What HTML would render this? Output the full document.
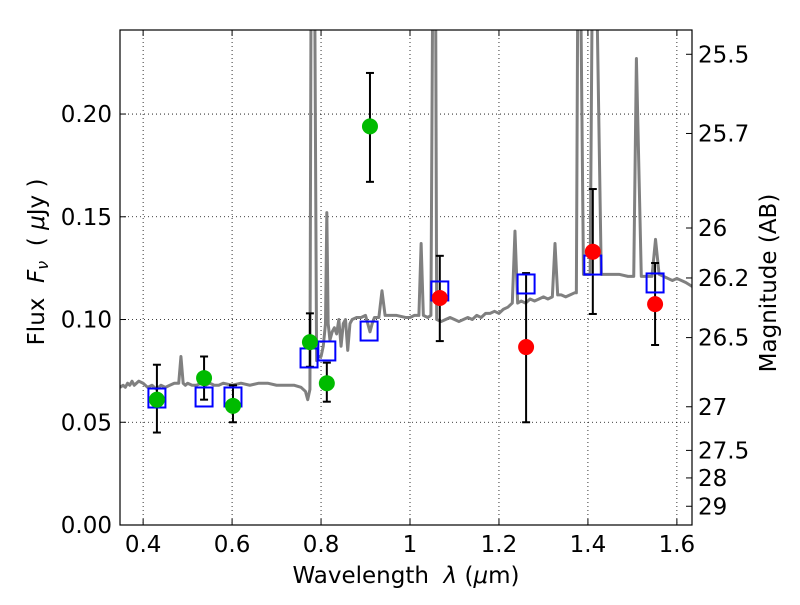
<!DOCTYPE html>
<html><head><meta charset="utf-8"><style>
body{margin:0;background:#fff}
svg{font-family:"DejaVu Sans","Liberation Sans",sans-serif}
</style></head><body>
<svg id="chart" width="800" height="600" xmlns="http://www.w3.org/2000/svg"></svg>
<script>
const specLambda=[0.348,0.355,0.36,0.365,0.37,0.375,0.38,0.385,0.39,0.40,0.41,0.42,0.43,0.44,0.45,0.46,0.47,0.48,0.485,0.49,0.495,0.50,0.51,0.52,0.53,0.54,0.55,0.56,0.57,0.58,0.60,0.62,0.64,0.66,0.68,0.70,0.72,0.74,0.755,0.765,0.770,0.775,0.778,0.782,0.786,0.790,0.795,0.80,0.805,0.810,0.813,0.816,0.82,0.825,0.83,0.835,0.84,0.845,0.85,0.855,0.86,0.865,0.87,0.88,0.89,0.90,0.905,0.91,0.915,0.92,0.93,0.937,0.944,0.95,0.97,0.99,1.00,1.01,1.02,1.025,1.03,1.04,1.047,1.052,1.057,1.06,1.07,1.08,1.09,1.10,1.11,1.12,1.13,1.14,1.15,1.16,1.17,1.18,1.19,1.20,1.21,1.22,1.23,1.236,1.242,1.25,1.26,1.27,1.28,1.29,1.30,1.31,1.32,1.326,1.332,1.34,1.35,1.36,1.37,1.374,1.378,1.382,1.39,1.40,1.405,1.411,1.417,1.43,1.45,1.47,1.49,1.497,1.503,1.509,1.52,1.535,1.544,1.552,1.56,1.57,1.58,1.59,1.60,1.62,1.635];
const specFlux=[0.067,0.068,0.067,0.069,0.068,0.070,0.068,0.069,0.070,0.069,0.067,0.068,0.066,0.068,0.067,0.068,0.069,0.069,0.082,0.069,0.068,0.069,0.068,0.068,0.069,0.068,0.069,0.068,0.068,0.069,0.068,0.069,0.068,0.069,0.069,0.068,0.068,0.068,0.067,0.065,0.061,0.066,0.30,0.30,0.25,0.080,0.082,0.082,0.087,0.098,0.152,0.098,0.090,0.094,0.096,0.093,0.100,0.087,0.098,0.100,0.085,0.098,0.100,0.101,0.101,0.102,0.098,0.094,0.098,0.101,0.101,0.114,0.102,0.102,0.102,0.101,0.101,0.102,0.102,0.137,0.102,0.101,0.102,0.30,0.30,0.100,0.099,0.100,0.101,0.100,0.099,0.100,0.101,0.100,0.102,0.101,0.103,0.103,0.104,0.103,0.105,0.106,0.108,0.143,0.108,0.109,0.108,0.110,0.109,0.110,0.111,0.110,0.111,0.137,0.112,0.112,0.111,0.112,0.113,0.113,0.30,0.30,0.122,0.122,0.122,0.30,0.30,0.122,0.122,0.122,0.121,0.121,0.121,0.227,0.121,0.121,0.121,0.139,0.122,0.121,0.120,0.119,0.120,0.118,0.116,0.114];
const greenLambda=[0.431,0.537,0.602,0.775,0.813,0.910];
const greenFlux=[0.061,0.0715,0.058,0.089,0.069,0.194];
const greenHi=[0.078,0.082,0.068,0.103,0.079,0.220];
const greenLo=[0.045,0.061,0.050,0.077,0.060,0.167];
const redLambda=[1.067,1.261,1.411,1.551];
const redFlux=[0.1105,0.0866,0.133,0.1075];
const redHi=[0.131,0.1226,0.1635,0.1275];
const redLo=[0.0895,0.050,0.1027,0.0876];
const boxLambda=[0.431,0.537,0.602,0.773,0.813,0.908,1.067,1.261,1.411,1.551];
const boxFlux=[0.0618,0.0623,0.0623,0.0813,0.0847,0.0944,0.1139,0.1173,0.1265,0.1178];
const xTicks=[0.4,0.6,0.8,1.0,1.2,1.4,1.6];
const xTickLabels=["0.4","0.6","0.8","1","1.2","1.4","1.6"];
const yTicks=[0,0.05,0.10,0.15,0.20];
const yTickLabels=["0.00","0.05","0.10","0.15","0.20"];
const magTicks=[25.5,25.7,26,26.2,26.5,27,27.5,28,29];
const magLabels=["25.5","25.7","26","26.2","26.5","27","27.5","28","29"];

const L=120,R=692,T=30,B=525,X0=0.348,X1=1.634,Y0=0,Y1=0.2409;
const sx=v=>L+(v-X0)/(X1-X0)*(R-L);
const sy=v=>B-(v-Y0)/(Y1-Y0)*(B-T);
const svg=document.getElementById('chart');
const NS='http://www.w3.org/2000/svg';
function mk(tag,attrs,parent){const e=document.createElementNS(NS,tag);for(const k in attrs)e.setAttribute(k,attrs[k]);(parent||svg).appendChild(e);return e;}
const defs=mk('defs',{});const cp=mk('clipPath',{id:'pc'},defs);mk('rect',{x:L,y:T,width:R-L,height:B-T},cp);

xTicks.forEach((t,i)=>{const g=mk('line',{x1:sx(t),x2:sx(t),y1:T,y2:B,stroke:'#000','stroke-width':0.8,'stroke-dasharray':'1,3'});

const tk=mk('line',{x1:sx(t),x2:sx(t),y1:B,y2:B-6,stroke:'#000'});
const tk2=mk('line',{x1:sx(t),x2:sx(t),y1:T,y2:T+6,stroke:'#000'});
const tx=mk('text',{x:sx(t),y:B+27,'font-size':23,'text-anchor':'middle'});tx.textContent=xTickLabels[i];
});
yTicks.forEach((t,i)=>{const g=mk('line',{x1:L,x2:R,y1:sy(t),y2:sy(t),stroke:'#000','stroke-width':0.8,'stroke-dasharray':'1,3'});

const tk=mk('line',{x1:L,x2:L+6,y1:sy(t),y2:sy(t),stroke:'#000'});
const tx=mk('text',{x:L-8,y:sy(t)+8,'font-size':23,'text-anchor':'end'});tx.textContent=yTickLabels[i];
});
magTicks.forEach((m,i)=>{const y=sy(Math.pow(10,(23.9-m)/2.5));
const tk=mk('line',{x1:R,x2:R-6,y1:y,y2:y,stroke:'#000'});
const tx=mk('text',{x:R+6,y:y+8,'font-size':23});tx.textContent=magLabels[i];
});

const pg=mk('g',{'clip-path':'url(#pc)'});
const spec=mk('polyline',{points:specLambda.map((l,i)=>sx(l)+','+sy(specFlux[i])).join(' '),fill:'none',stroke:'#808080','stroke-width':3,'stroke-linejoin':'round'},pg);


function errbar(l,lo,hi){const x=sx(l);const g=mk('g',{stroke:'#000','stroke-width':2},pg);

mk('line',{x1:x,x2:x,y1:sy(lo),y2:sy(hi)},g);mk('line',{x1:x-4,x2:x+4,y1:sy(lo),y2:sy(lo)},g);mk('line',{x1:x-4,x2:x+4,y1:sy(hi),y2:sy(hi)},g);}
greenLambda.forEach((l,i)=>errbar(l,greenLo[i],greenHi[i]));
redLambda.forEach((l,i)=>errbar(l,redLo[i],redHi[i]));
boxLambda.forEach((l,i)=>{const r=mk('rect',{x:sx(l)-8.5,y:sy(boxFlux[i])-9.5,width:17,height:19,fill:'none',stroke:'#0000ff','stroke-width':2},pg);
});
greenLambda.forEach((l,i)=>{const c=mk('circle',{cx:sx(l),cy:sy(greenFlux[i]),r:8,fill:'#00bb00'},pg);
});
redLambda.forEach((l,i)=>{const c=mk('circle',{cx:sx(l),cy:sy(redFlux[i]),r:8,fill:'#ff0000'},pg);
});

const fr=mk('rect',{x:L,y:T,width:R-L,height:B-T,fill:'none',stroke:'#000','stroke-width':1.2});

const xl=mk('text',{x:406,y:583,'font-size':23,'text-anchor':'middle'});xl.innerHTML='Wavelength &#160;<tspan font-style="italic">λ</tspan> (<tspan font-style="italic">μ</tspan>m)';

const yl=mk('text',{x:0,y:0,'font-size':23,'text-anchor':'middle',transform:'translate(44,262) rotate(-90)'});yl.innerHTML='Flux &#160;<tspan font-style="italic">F</tspan><tspan font-style="italic" font-size="16" dy="4">ν</tspan><tspan dy="-4"> &#160;( </tspan><tspan font-style="italic">μ</tspan>Jy )';

const ml=mk('text',{x:0,y:0,'font-size':23,'text-anchor':'middle',transform:'translate(776,283) rotate(-90)'});ml.textContent='Magnitude (AB)';

</script>
</body></html>
